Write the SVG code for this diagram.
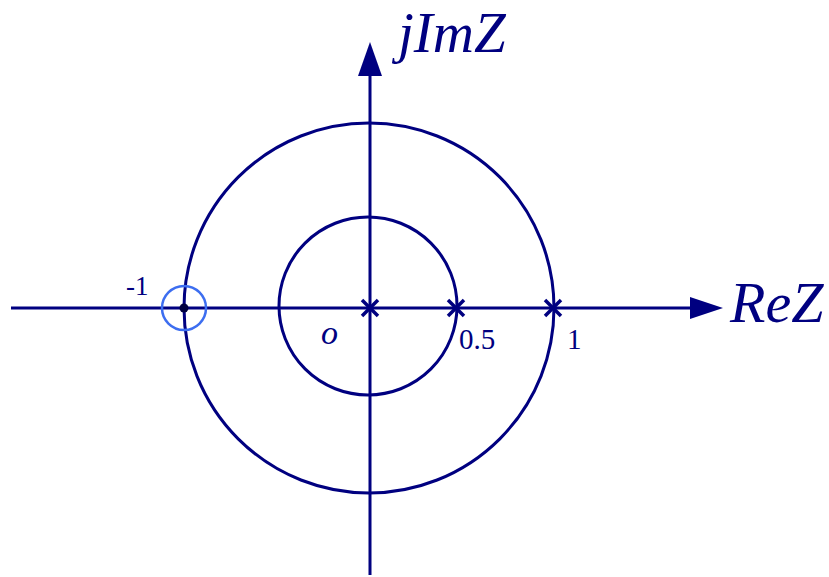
<svg xmlns="http://www.w3.org/2000/svg" width="829" height="577" viewBox="0 0 829 577">
<style>
.ax{stroke:#000080;stroke-width:3;fill:none}
.c{stroke:#000080;stroke-width:3;fill:none}
.x{stroke:#000080;stroke-width:3.5}
.t{font-family:"Liberation Serif",serif;fill:#000080}
.i{font-style:italic}
</style>
<rect width="829" height="577" fill="#fff"/>
<g id="connectors">
<line class="ax" x1="11" y1="308" x2="695" y2="308"/>
<polygon points="690,297 723,308 690,319" fill="#000080"/>
<line class="ax" x1="370" y1="575" x2="370" y2="70"/>
<polygon points="358,76 370,42 382,76" fill="#000080"/>
</g>
<g id="outer-circle"><circle class="c" cx="369" cy="308" r="185"/></g>
<g id="inner-circle"><circle class="c" cx="368" cy="306" r="89"/></g>
<g id="zero-minus1">
<circle cx="184" cy="308" r="22" fill="none" stroke="#3d6ef0" stroke-width="2.5"/>
<circle cx="184" cy="308" r="4.5" fill="#000040"/>
</g>
<g id="poles">
<path class="x" d="M362,300 L378,316 M362,316 L378,300 M448,300 L464,316 M448,316 L464,300 M545,300 L561,316 M545,316 L561,300"/>
</g>
<g id="labels">
<text class="t" x="126" y="295" font-size="27">-1</text>
<text class="t i" x="321" y="344" font-size="34">o</text>
<text class="t" x="459" y="349" font-size="29">0.5</text>
<text class="t" x="567" y="349" font-size="29">1</text>
<text class="t i" x="398" y="52" font-size="57">jImZ</text>
<text class="t i" x="730" y="322" font-size="58">ReZ</text>
</g>
</svg>
